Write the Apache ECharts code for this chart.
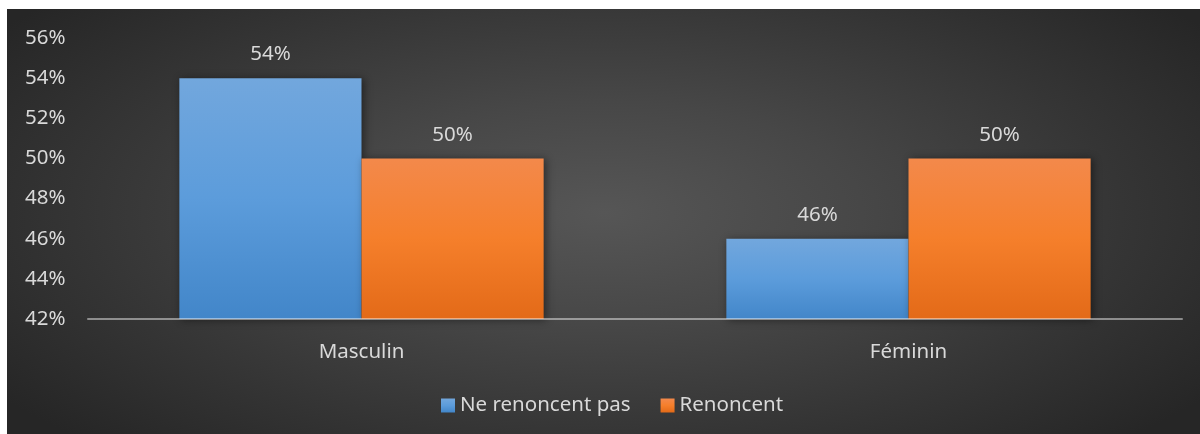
<!DOCTYPE html>
<html>
<head>
<meta charset="utf-8">
<script src="https://cdn.jsdelivr.net/npm/echarts@6/dist/echarts.min.js"></script>
<style>
html,body{margin:0;padding:0;background:#fff;width:1200px;height:434px;overflow:hidden;}
#chart{position:absolute;left:7px;top:9px;width:1193px;height:425px;
background:radial-gradient(ellipse 62% 75% at 50% 48%, #565656 0%, #474747 35%, #353535 70%, #262626 100%);}
</style>
</head>
<body>
<div id="chart"></div>
<script>
const categories = ['Masculin', 'Féminin'];
const seriesNames = ['Ne renoncent pas', 'Renoncent'];
const neRenoncentPas = [54, 46];
const renoncent = [50, 50];
const yTicks = { min: 42, max: 56, interval: 2 };

const chart = echarts.init(document.getElementById('chart'));
const font = '"Noto Sans", "Open Sans", sans-serif';
const fs = 20.5;
function grad(top, mid, bottom) {
  return new echarts.graphic.LinearGradient(0, 0, 0, 1, [
    { offset: 0, color: top }, { offset: 0.5, color: mid }, { offset: 1, color: bottom }
  ]);
}
const labelCfg = {
  show: true, position: 'top', distance: 13, color: '#d9d9d9',
  fontSize: fs, fontFamily: font, formatter: '{c}%'
};
chart.setOption({
  backgroundColor: 'transparent',
  animation: false,
  grid: { left: 81, right: 18, top: 29, bottom: 115, containLabel: false },
  legend: {
    data: seriesNames, bottom: 13, left: 429,
    itemWidth: 14, itemHeight: 14, itemGap: 30,
    icon: 'rect',
    textStyle: { color: '#d9d9d9', fontSize: fs, fontFamily: font, padding: [0, 0, 0, 0] }
  },
  xAxis: {
    type: 'category', data: categories, z: 5,
    axisLine: { lineStyle: { color: 'rgba(255,255,255,0.45)', width: 2 } },
    axisTick: { show: false },
    axisLabel: { color: '#d9d9d9', fontSize: fs, fontFamily: font, margin: 23 }
  },
  yAxis: {
    type: 'value', min: yTicks.min, max: yTicks.max, interval: yTicks.interval,
    axisLine: { show: false }, axisTick: { show: false }, splitLine: { show: false },
    axisLabel: { color: '#d9d9d9', fontSize: fs, fontFamily: font, formatter: '{value}%', align: 'left', margin: 63 }
  },
  series: [
    {
      name: seriesNames[0], type: 'bar', data: neRenoncentPas,
      barWidth: '33.3%', barGap: '0%',
      itemStyle: { color: grad('#72a7dd', '#5c9cdb', '#4286c9'), shadowBlur: 8, shadowColor: 'rgba(0,0,0,0.45)', shadowOffsetX: 2, shadowOffsetY: 1 },
      label: labelCfg
    },
    {
      name: seriesNames[1], type: 'bar', data: renoncent,
      barWidth: '33.3%', barGap: '0%',
      itemStyle: { color: grad('#f3894b', '#f57f2b', '#e36a18'), shadowBlur: 8, shadowColor: 'rgba(0,0,0,0.45)', shadowOffsetX: 2, shadowOffsetY: 1 },
      label: labelCfg
    }
  ]
});
</script>
</body>
</html>
